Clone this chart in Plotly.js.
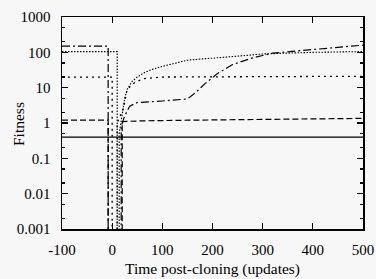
<!DOCTYPE html>
<html><head><meta charset="utf-8">
<script src="https://cdn.plot.ly/plotly-3.0.1.min.js"></script>
<style>html,body{margin:0;padding:0;background:#f7f7f7;}</style>
</head><body><div id="chart" style="width:376px;height:279px;"></div>
<script>
// Series data (time post-cloning, fitness)
const solidX = [-100, 500];
const solidY = [0.4, 0.4];

const dashedX = [-100, -8, -8, 20, 20, 60, 150, 300, 400, 500];
const dashedY = [1.2, 1.2, 0.0005, 0.0005, 1.1, 1.15, 1.2, 1.25, 1.3, 1.35];

const dashDotX = [-100, -8, -8, 18, 18, 25, 35, 50, 100, 150, 165, 185, 210, 240, 280, 320, 400, 450, 500];
const dashDotY = [150, 150, 0.0005, 0.0005, 0.8, 1.6, 3, 3.8, 4.2, 4.8, 7, 13, 25, 45, 70, 95, 120, 140, 160];

const denseDotX = [-100, 10, 10, 14, 14, 20, 25, 30, 40, 50, 65, 80, 100, 150, 200, 250, 300, 350, 400, 500];
const denseDotY = [105, 105, 0.0005, 0.0005, 0.5, 2, 5, 9, 15, 20, 27, 33, 40, 60, 70, 78, 90, 95, 100, 105];

const sparseDotX = [-100, 0, 0, 10, 10, 22, 30, 45, 62, 80, 100, 300, 500];
const sparseDotY = [20, 20, 0.0005, 0.0005, 1, 2.5, 9, 14, 18, 19, 20, 20.5, 21];

const xTicks = [-100, 0, 100, 200, 300, 400, 500];
const yTicks = [0.001, 0.01, 0.1, 1, 10, 100, 1000];
const yTickText = ['0.001', '0.01', '0.1', '1', '10', '100', '1000'];

function tr(x, y, dash, w) {
  return {x: x, y: y, type: 'scatter', mode: 'lines',
    line: {color: '#000', width: w || 1.2, dash: dash}, hoverinfo: 'skip'};
}

const data = [
  tr(solidX, solidY, 'solid', 1.2),
  tr(dashedX, dashedY, '6px,3px', 1.2),
  tr(dashDotX, dashDotY, '8px,3px,2px,3px', 1.2),
  tr(denseDotX, denseDotY, '1.5px,1.5px', 1.1),
  tr(sparseDotX, sparseDotY, '2px,4px', 1.3)
];

const font = {family: '"Liberation Serif", "DejaVu Serif", serif', size: 15, color: '#000'};
const titleFont = {family: '"Liberation Serif", "DejaVu Serif", serif', size: 15.5, color: '#000'};

const layout = {
  width: 376, height: 279,
  margin: {l: 62, r: 13, t: 17, b: 50},
  paper_bgcolor: '#f7f7f7', plot_bgcolor: '#f7f7f7',
  showlegend: false,
  font: font,
  xaxis: {
    range: [-100, 500], tickvals: xTicks, ticktext: xTicks.map(String),
    ticks: 'inside', ticklen: 6, tickwidth: 1.2, tickcolor: '#000',
    showline: true, linecolor: '#000', linewidth: 1.5, mirror: 'ticks',
    showgrid: false, zeroline: false,
    tickfont: font, ticklabelstandoff: 6,
    title: {text: 'Time post-cloning (updates)', font: titleFont, standoff: 6}
  },
  yaxis: {
    type: 'log', range: [-3, 3], tickvals: yTicks, ticktext: yTickText,
    ticks: 'inside', ticklen: 6, tickwidth: 1.2, tickcolor: '#000',
    showline: true, linecolor: '#000', linewidth: 1.5, mirror: 'ticks',
    showgrid: false, zeroline: false,
    minor: {ticks: 'inside', ticklen: 3, tickcolor: '#000', showgrid: false},
    tickfont: font, ticklabelstandoff: 7
  },
  annotations: [{
    text: 'Fitness', textangle: -90, font: titleFont, showarrow: false,
    xref: 'paper', yref: 'paper', x: 0, y: 0.5, xanchor: 'center', yanchor: 'middle',
    xshift: -44, yshift: -1
  }]
};

Plotly.newPlot('chart', data, layout, {staticPlot: true, displayModeBar: false});
</script>
</body></html>
